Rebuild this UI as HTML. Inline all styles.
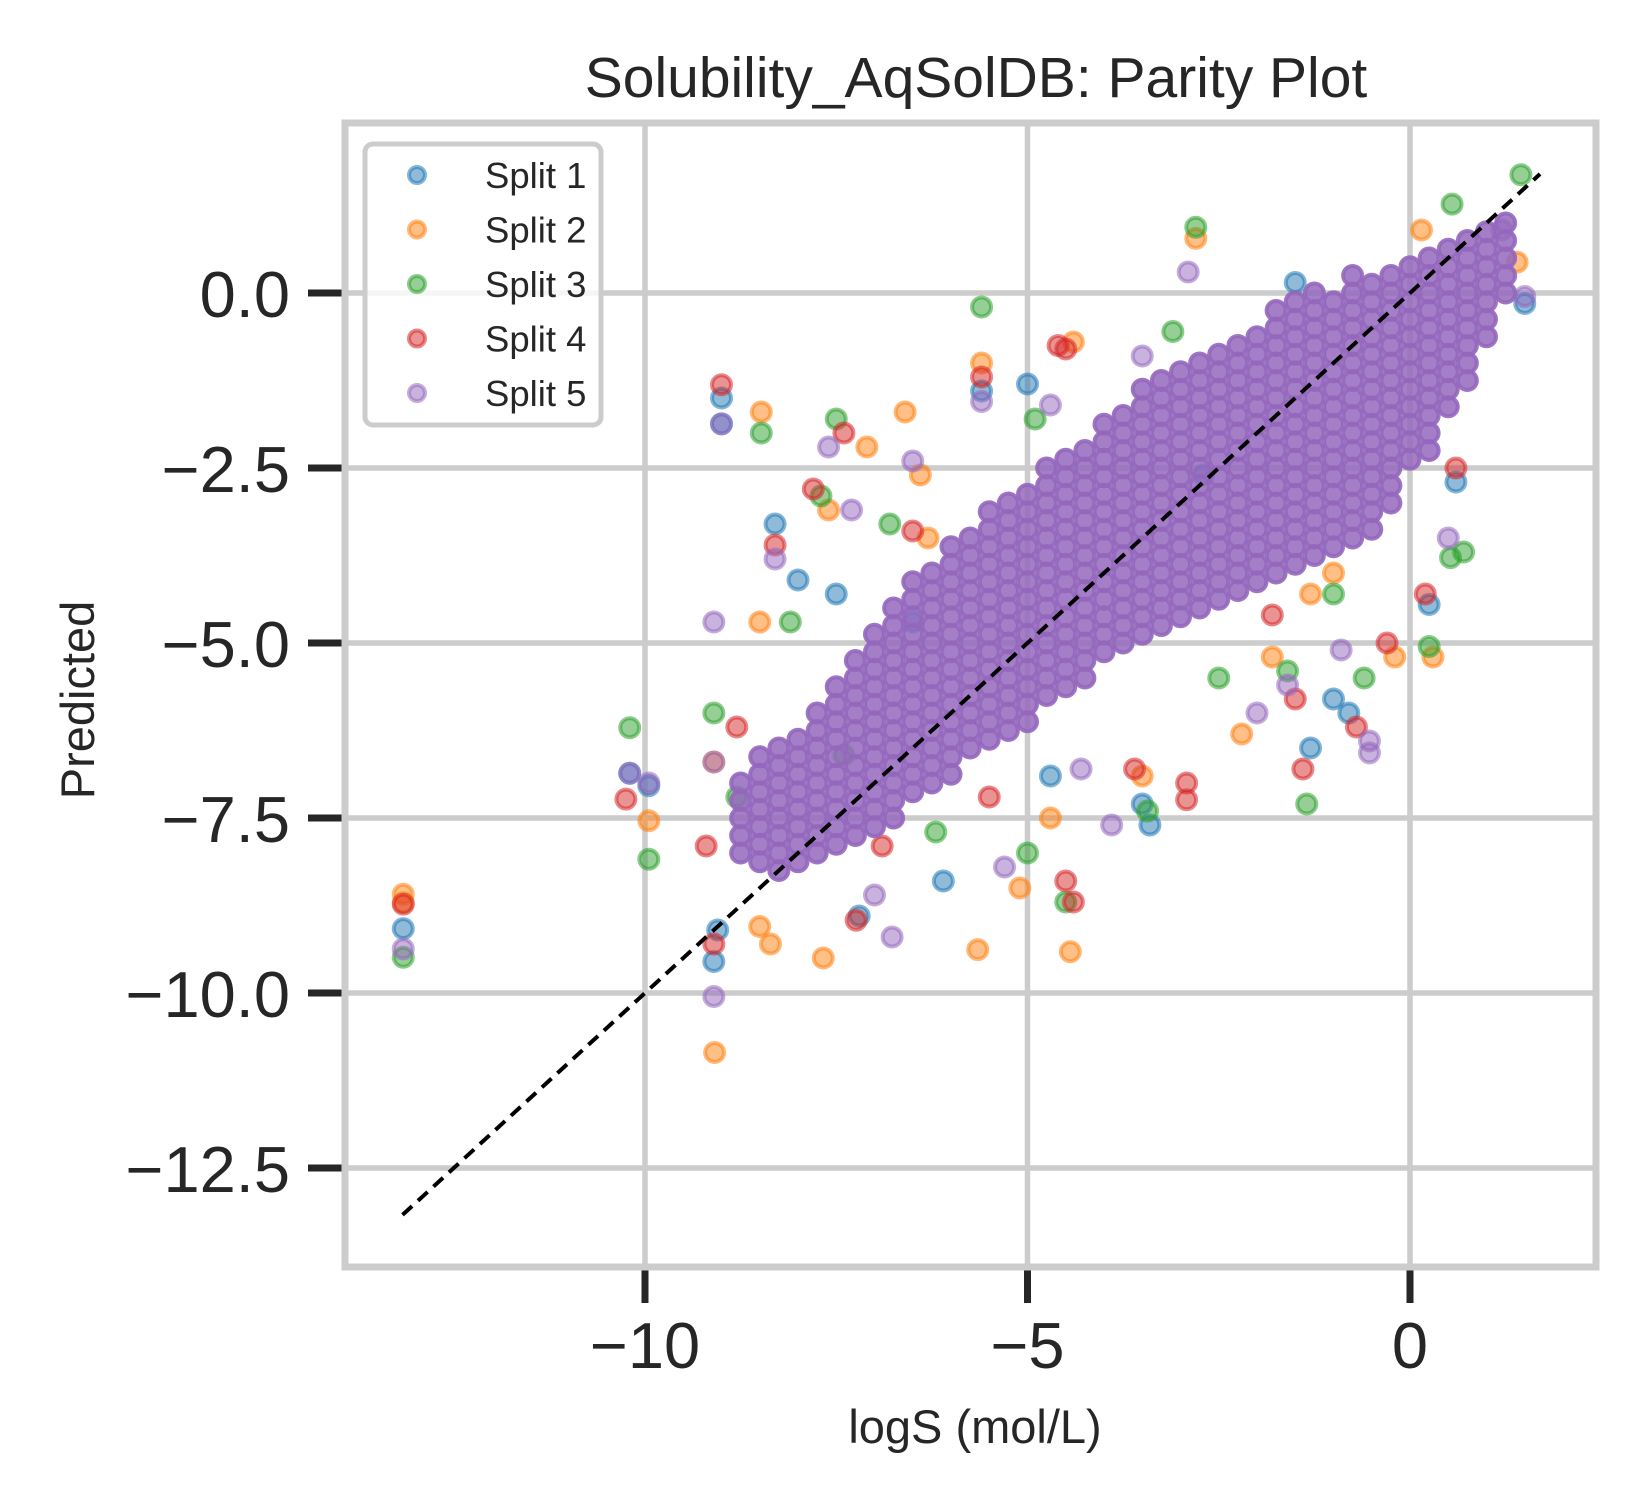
<!DOCTYPE html>
<html><head><meta charset="utf-8"><style>
html,body{margin:0;padding:0;background:#fff;}
svg{display:block;font-family:"Liberation Sans",sans-serif;}
</style></head><body>
<svg id="chart" width="1650" height="1500" viewBox="0 0 1650 1500" xmlns="http://www.w3.org/2000/svg">
<rect x="0" y="0" width="1650" height="1500" fill="#fff"/>
<g id="grid"></g>
<g id="marks"></g>
<g id="axes"></g>
<text x="976" y="97" font-size="57" fill="#262626" text-anchor="middle">Solubility_AqSolDB: Parity Plot</text>
<text x="975" y="1443" font-size="47" fill="#262626" text-anchor="middle">logS (mol/L)</text>
<text x="0" y="0" font-size="47" fill="#262626" text-anchor="middle" transform="translate(94,700) rotate(-90)">Predicted</text>
<g id="legend"></g>
</svg>
<script>
const xTicks = [-10, -5, 0];
const xTickLabels = ["\u221210", "\u22125", "0"];
const yTicks = [0, -2.5, -5, -7.5, -10, -12.5];
const yTickLabels = ["0.0", "\u22122.5", "\u22125.0", "\u22127.5", "\u221210.0", "\u221212.5"];
const seriesNames = ["Split 1", "Split 2", "Split 3", "Split 4", "Split 5"];
const seriesColors = ["#1f77b4", "#ff7f0e", "#2ca02c", "#d62728", "#9467bd"];
const parityRange = [-13.17, 1.7];

const split1 = [[-13.16,-9.08],[-9.0,-1.5],[-9.0,-1.87],[-10.2,-6.86],[-9.95,-7.04],[-9.1,-9.55],[-9.05,-9.1],[-8.3,-3.3],[-8.0,-4.1],[-7.5,-4.3],[-6.5,-4.7],[-5.6,-1.4],[-5.0,-1.3],[-3.5,-7.3],[-3.4,-7.6],[-1.5,0.15],[0.25,-4.45],[1.5,-0.15],[-0.8,-6.0],[-1.3,-6.5],[-2.7,-2.6],[-6.1,-8.4],[-7.2,-8.9],[-4.7,-6.9],[-1.0,-5.8],[0.6,-2.7]];
const split2 = [[-13.16,-8.59],[-13.16,-8.71],[-9.09,-10.85],[-9.95,-7.54],[-8.48,-1.7],[-5.6,-1.0],[-2.8,0.78],[1.4,0.44],[-4.44,-9.41],[-5.65,-9.38],[-7.67,-9.5],[-8.36,-9.3],[-8.5,-9.05],[-2.2,-6.3],[-6.6,-1.7],[-7.1,-2.2],[-6.3,-3.5],[0.3,-5.2],[-0.2,-5.2],[-1.0,-4.0],[0.15,0.9],[-8.5,-4.7],[-7.6,-3.1],[-4.4,-0.7],[-4.7,-7.5],[-3.5,-6.9],[-6.4,-2.6],[-9.1,-6.7],[-5.1,-8.5],[-1.3,-4.3],[-1.8,-5.2]];
const split3 = [[-13.16,-9.49],[-10.2,-6.21],[-9.95,-8.09],[-5.6,-0.2],[-2.8,0.94],[1.45,1.69],[0.55,1.27],[-8.48,-2.0],[0.25,-5.05],[0.53,-3.78],[-1.35,-7.3],[-3.43,-7.4],[-7.7,-2.9],[-7.5,-1.8],[-6.8,-3.3],[-4.9,-1.8],[-3.1,-0.55],[-1.0,-4.3],[-8.8,-7.2],[-6.2,-7.7],[-4.5,-8.7],[-5.0,-8.0],[-9.1,-6.0],[-0.6,-5.5],[-2.5,-5.5],[-1.6,-5.4],[-8.1,-4.7],[0.7,-3.7],[-7.4,-6.6]];
const split4 = [[-13.16,-8.73],[-9.0,-1.31],[-10.25,-7.23],[-9.2,-7.9],[-9.1,-9.3],[-5.6,-1.2],[-4.6,-0.75],[-4.5,-0.8],[-2.92,-7.24],[-2.92,-7.0],[-7.24,-8.96],[-7.8,-2.8],[-7.4,-2.0],[-8.3,-3.6],[-6.5,-3.4],[-4.4,-8.7],[-4.5,-8.4],[-1.4,-6.8],[-0.7,-6.2],[-0.3,-5.0],[0.2,-4.3],[0.6,-2.5],[-1.8,-4.6],[-3.6,-6.8],[-5.5,-7.2],[-6.9,-7.9],[-8.8,-6.2],[-1.5,-5.8]];
const split5 = [[-13.16,-9.37],[-9.0,-1.87],[-10.2,-6.86],[-9.95,-7.0],[-9.1,-10.05],[-9.1,-6.7],[-9.1,-4.7],[-6.77,-9.2],[-0.53,-6.57],[-0.53,-6.4],[1.5,-0.05],[-2.9,0.3],[-5.6,-1.55],[-7.6,-2.2],[-7.3,-3.1],[-6.5,-2.4],[-8.3,-3.8],[-4.3,-6.8],[-2.0,-6.0],[-1.6,-5.6],[-0.9,-5.1],[0.5,-3.5],[-3.9,-7.6],[-5.3,-8.2],[-7.0,-8.6],[1.2,0.9],[-4.7,-1.6],[-3.5,-0.9]];
// dense core of split 5: [x, [y values]]
const split5Core = [
[-8.75,[-8,-7.75,-7.5,-7.25,-7]],
[-8.5,[-8.125,-7.875,-7.625,-7.375,-7.125,-6.875,-6.625]],
[-8.25,[-8.25,-8,-7.75,-7.5,-7.25,-7,-6.75,-6.5]],
[-8.0,[-8.125,-7.875,-7.625,-7.375,-7.125,-6.875,-6.625,-6.375]],
[-7.75,[-8,-7.75,-7.5,-7.25,-7,-6.75,-6.5,-6.25,-6]],
[-7.5,[-7.875,-7.625,-7.375,-7.125,-6.875,-6.625,-6.375,-6.125,-5.875,-5.625]],
[-7.25,[-7.75,-7.5,-7.25,-7,-6.75,-6.5,-6.25,-6,-5.75,-5.5,-5.25]],
[-7.0,[-7.625,-7.375,-7.125,-6.875,-6.625,-6.375,-6.125,-5.875,-5.625,-5.375,-5.125,-4.875]],
[-6.75,[-7.5,-7.25,-7,-6.75,-6.5,-6.25,-6,-5.75,-5.5,-5.25,-5,-4.75,-4.5]],
[-6.5,[-7.125,-6.875,-6.625,-6.375,-6.125,-5.875,-5.625,-5.375,-5.125,-4.875,-4.625,-4.375,-4.125]],
[-6.25,[-7,-6.75,-6.5,-6.25,-6,-5.75,-5.5,-5.25,-5,-4.75,-4.5,-4.25,-4]],
[-6.0,[-6.875,-6.625,-6.375,-6.125,-5.875,-5.625,-5.375,-5.125,-4.875,-4.625,-4.375,-4.125,-3.875,-3.625]],
[-5.75,[-6.5,-6.25,-6,-5.75,-5.5,-5.25,-5,-4.75,-4.5,-4.25,-4,-3.75,-3.5]],
[-5.5,[-6.375,-6.125,-5.875,-5.625,-5.375,-5.125,-4.875,-4.625,-4.375,-4.125,-3.875,-3.625,-3.375,-3.125]],
[-5.25,[-6.25,-6,-5.75,-5.5,-5.25,-5,-4.75,-4.5,-4.25,-4,-3.75,-3.5,-3.25,-3]],
[-5.0,[-6.125,-5.875,-5.625,-5.375,-5.125,-4.875,-4.625,-4.375,-4.125,-3.875,-3.625,-3.375,-3.125,-2.875]],
[-4.75,[-5.75,-5.5,-5.25,-5,-4.75,-4.5,-4.25,-4,-3.75,-3.5,-3.25,-3,-2.75,-2.5]],
[-4.5,[-5.625,-5.375,-5.125,-4.875,-4.625,-4.375,-4.125,-3.875,-3.625,-3.375,-3.125,-2.875,-2.625,-2.375]],
[-4.25,[-5.5,-5.25,-5,-4.75,-4.5,-4.25,-4,-3.75,-3.5,-3.25,-3,-2.75,-2.5,-2.25]],
[-4.0,[-5.125,-4.875,-4.625,-4.375,-4.125,-3.875,-3.625,-3.375,-3.125,-2.875,-2.625,-2.375,-2.125,-1.875]],
[-3.75,[-5,-4.75,-4.5,-4.25,-4,-3.75,-3.5,-3.25,-3,-2.75,-2.5,-2.25,-2,-1.75]],
[-3.5,[-4.875,-4.625,-4.375,-4.125,-3.875,-3.625,-3.375,-3.125,-2.875,-2.625,-2.375,-2.125,-1.875,-1.625,-1.375]],
[-3.25,[-4.75,-4.5,-4.25,-4,-3.75,-3.5,-3.25,-3,-2.75,-2.5,-2.25,-2,-1.75,-1.5,-1.25]],
[-3.0,[-4.625,-4.375,-4.125,-3.875,-3.625,-3.375,-3.125,-2.875,-2.625,-2.375,-2.125,-1.875,-1.625,-1.375,-1.125]],
[-2.75,[-4.5,-4.25,-4,-3.75,-3.5,-3.25,-3,-2.75,-2.5,-2.25,-2,-1.75,-1.5,-1.25,-1]],
[-2.5,[-4.375,-4.125,-3.875,-3.625,-3.375,-3.125,-2.875,-2.625,-2.375,-2.125,-1.875,-1.625,-1.375,-1.125,-0.875]],
[-2.25,[-4.25,-4,-3.75,-3.5,-3.25,-3,-2.75,-2.5,-2.25,-2,-1.75,-1.5,-1.25,-1,-0.75]],
[-2.0,[-4.125,-3.875,-3.625,-3.375,-3.125,-2.875,-2.625,-2.375,-2.125,-1.875,-1.625,-1.375,-1.125,-0.875,-0.625]],
[-1.75,[-4,-3.75,-3.5,-3.25,-3,-2.75,-2.5,-2.25,-2,-1.75,-1.5,-1.25,-1,-0.75,-0.5,-0.25]],
[-1.5,[-3.875,-3.625,-3.375,-3.125,-2.875,-2.625,-2.375,-2.125,-1.875,-1.625,-1.375,-1.125,-0.875,-0.625,-0.375,-0.125]],
[-1.25,[-3.75,-3.5,-3.25,-3,-2.75,-2.5,-2.25,-2,-1.75,-1.5,-1.25,-1,-0.75,-0.5,-0.25,0]],
[-1.0,[-3.625,-3.375,-3.125,-2.875,-2.625,-2.375,-2.125,-1.875,-1.625,-1.375,-1.125,-0.875,-0.625,-0.375,-0.125]],
[-0.75,[-3.5,-3.25,-3,-2.75,-2.5,-2.25,-2,-1.75,-1.5,-1.25,-1,-0.75,-0.5,-0.25,0,0.25]],
[-0.5,[-3.375,-3.125,-2.875,-2.625,-2.375,-2.125,-1.875,-1.625,-1.375,-1.125,-0.875,-0.625,-0.375,-0.125,0.125]],
[-0.25,[-3,-2.75,-2.5,-2.25,-2,-1.75,-1.5,-1.25,-1,-0.75,-0.5,-0.25,0,0.25]],
[0,[-2.375,-2.125,-1.875,-1.625,-1.375,-1.125,-0.875,-0.625,-0.375,-0.125,0.125,0.375]],
[0.25,[-2.25,-2,-1.75,-1.5,-1.25,-1,-0.75,-0.5,-0.25,0,0.25,0.5]],
[0.5,[-1.625,-1.375,-1.125,-0.875,-0.625,-0.375,-0.125,0.125,0.375,0.625]],
[0.75,[-1.25,-1,-0.75,-0.5,-0.25,0,0.25,0.5,0.75]],
[1.0,[-0.625,-0.375,-0.125,0.125,0.375,0.625,0.875]],
[1.25,[0,0.25,0.5,0.75,1]]
];

const NS = "http://www.w3.org/2000/svg";
const plot = {left: 345, right: 1596, top: 123, bottom: 1267};
function xScale(v){ return 1410 + v * 76.5; }
function yScale(v){ return 293 - v * 70; }
function mk(tag, attrs, parent){
  const el = document.createElementNS(NS, tag);
  for (const k in attrs) el.setAttribute(k, attrs[k]);
  parent.appendChild(el);
  return el;
}
const grid = document.getElementById('grid');
const axes = document.getElementById('axes');
const marks = document.getElementById('marks');
const legend = document.getElementById('legend');

xTicks.forEach((t, i) => {
  const g = mk('line', {x1: xScale(t), x2: xScale(t), y1: plot.top, y2: plot.bottom, stroke: '#cccccc', 'stroke-width': 5.5}, grid);
  
  
  const tk = mk('line', {x1: xScale(t), x2: xScale(t), y1: plot.bottom + 3, y2: plot.bottom + 36, stroke: '#262626', 'stroke-width': 7}, axes);
  
  
  const tx = mk('text', {x: xScale(t), y: 1368, 'font-size': 65, fill: '#262626', 'text-anchor': 'middle'}, axes);
  tx.textContent = xTickLabels[i];
  
  
});
yTicks.forEach((t, i) => {
  const g = mk('line', {x1: plot.left, x2: plot.right, y1: yScale(t), y2: yScale(t), stroke: '#cccccc', 'stroke-width': 5.5}, grid);
  
  
  const tk = mk('line', {x1: plot.left - 37, x2: plot.left - 3, y1: yScale(t), y2: yScale(t), stroke: '#262626', 'stroke-width': 7}, axes);
  
  
  const tx = mk('text', {x: 290, y: yScale(t) + 24, 'font-size': 65, fill: '#262626', 'text-anchor': 'end'}, axes);
  tx.textContent = yTickLabels[i];
  
  
});
const frame = mk('rect', {x: plot.left, y: plot.top, width: plot.right - plot.left, height: plot.bottom - plot.top, fill: 'none', stroke: '#cccccc', 'stroke-width': 7}, axes);



function dot(x, y, color, parent, op){
  const c = mk('circle', {cx: xScale(x), cy: yScale(y), r: 9.5, fill: color, 'fill-opacity': op, stroke: color, 'stroke-opacity': Math.min(1, op + 0.05), 'stroke-width': 4}, parent);
  return c;
}
const allSplits = [split1, split2, split3, split4, split5];
allSplits.forEach((pts, si) => {
  const g = mk('g', {}, marks);
  
  
  pts.forEach(p => {
    const c = dot(p[0], p[1], seriesColors[si], g, 0.5);
    
    
  });
  if (si === 4) {
    split5Core.forEach(col => {
      col[1].forEach(yv => {
        const c = dot(col[0], yv, seriesColors[4], g, 0.85);
        
        
      });
    });
  }
});
const diag = mk('line', {x1: xScale(parityRange[0]), y1: yScale(parityRange[0]), x2: xScale(parityRange[1]), y2: yScale(parityRange[1]), stroke: '#000', 'stroke-width': 4, 'stroke-dasharray': '13 8'}, marks);



const box = mk('rect', {x: 365, y: 144, width: 236, height: 281, rx: 8, fill: '#fff', 'fill-opacity': 0.8, stroke: '#cccccc', 'stroke-width': 5}, legend);


seriesNames.forEach((n, i) => {
  const cy = 175 + i * 54.5;
  const c = mk('circle', {cx: 417, cy: cy, r: 8, fill: seriesColors[i], 'fill-opacity': 0.5, stroke: seriesColors[i], 'stroke-opacity': 0.55, 'stroke-width': 4}, legend);
  
  
  const t = mk('text', {x: 485, y: cy + 13, 'font-size': 36.5, fill: '#262626'}, legend);
  t.textContent = n;
  
  
});
</script>
</body></html>
